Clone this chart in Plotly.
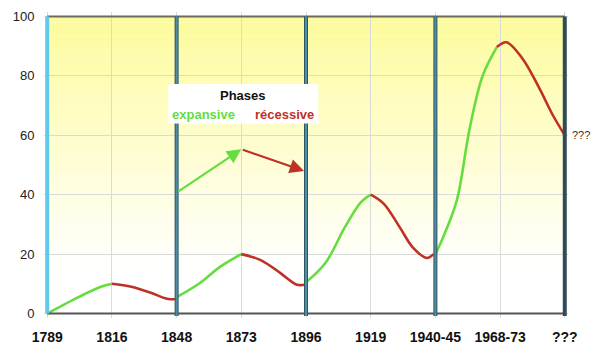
import plotly.graph_objects as go

# ---- data ----
periods = ["1789", "1816", "1848", "1873", "1896", "1919", "1940-45", "1968-73", "???"]
y_ticks = [0, 20, 40, 60, 80, 100]

# curve segments (x = index of period, y = value)
exp1_x = [0, 0.5, 0.83, 1]
exp1_y = [0, 5.7, 9, 10]
rec1_x = [1, 1.3, 1.6, 1.85, 2]
rec1_y = [10, 9, 7, 5, 4.8]
exp2_x = [2, 2.36, 2.67, 3]
exp2_y = [5.5, 10.3, 15.7, 20]
rec2_x = [3, 3.3, 3.6, 3.86, 4]
rec2_y = [20, 18, 13.7, 9.7, 9.8]
exp3_x = [4, 4.3, 4.6, 4.85, 5]
exp3_y = [10.5, 17, 29, 37.5, 40]
rec3_x = [5, 5.2, 5.45, 5.65, 5.87, 5.97]
rec3_y = [40, 37, 29, 22.3, 18.7, 20]
exp4_x = [6, 6.12, 6.33, 6.53, 6.73, 6.95]
exp4_y = [20, 25.7, 38, 62.3, 80, 89.7]
rec4_x = [6.95, 7.1, 7.35, 7.61, 7.81, 8]
rec4_y = [89.7, 91.3, 85.7, 75.7, 67, 60]

expansive = [(exp1_x, exp1_y), (exp2_x, exp2_y), (exp3_x, exp3_y), (exp4_x, exp4_y)]
recessive = [(rec1_x, rec1_y), (rec2_x, rec2_y), (rec3_x, rec3_y), (rec4_x, rec4_y)]

# phase arrows (legend illustration)
arrow_green = (2, 40.7, 3, 55.3)
arrow_red = (3, 55.3, 3.97, 48)

GREEN = "#66dd3f"
RED = "#bf3128"
FONT = "Liberation Sans, Arial, sans-serif"

fig = go.Figure()
for xs, ys in expansive:
    fig.add_trace(go.Scatter(x=xs, y=ys, mode="lines", line=dict(color=GREEN, width=2.6, shape="spline"),
                             hoverinfo="skip", showlegend=False))
for xs, ys in recessive:
    fig.add_trace(go.Scatter(x=xs, y=ys, mode="lines", line=dict(color=RED, width=2.6, shape="spline"),
                             hoverinfo="skip", showlegend=False))

shapes = []
# gradient background: yellow at top fading to white
n = 40
top_col = (253, 251, 155)
y_lo, y_hi = 15, 100
for i in range(n):
    t = (i + 0.5) / n
    r = int(round(255 + (top_col[0] - 255) * t))
    g = int(round(255 + (top_col[1] - 255) * t))
    b = int(round(255 + (top_col[2] - 255) * t))
    y0 = y_lo + (y_hi - y_lo) * i / n
    y1 = y_lo + (y_hi - y_lo) * (i + 1) / n
    shapes.append(dict(type="rect", xref="x", yref="y", x0=0, x1=8, y0=y0, y1=y1,
                       fillcolor=f"rgb({r},{g},{b})", line=dict(width=0), layer="below"))

# top border and bottom axis
shapes.append(dict(type="line", xref="x", yref="y", x0=0, x1=8, y0=100, y1=100,
                   line=dict(color="#6b6b60", width=2), layer="above"))
shapes.append(dict(type="line", xref="x", yref="y", x0=0, x1=8, y0=0, y1=0,
                   line=dict(color="#555555", width=2), layer="above"))

# phase boundary vertical lines
shapes.append(dict(type="line", xref="x", yref="y", x0=0, x1=0, y0=0, y1=100,
                   line=dict(color="#5ec9ea", width=4), layer="above"))
for xv in [2, 4, 6]:
    shapes.append(dict(type="line", xref="x", yref="y", x0=xv, x1=xv, y0=-0.8, y1=100,
                       line=dict(color="#2f5663", width=4), layer="above"))
    shapes.append(dict(type="line", xref="x", yref="y", x0=xv, x1=xv, y0=-0.8, y1=100,
                       line=dict(color="#4f8fa6", width=2), layer="above"))
shapes.append(dict(type="line", xref="x", yref="y", x0=8, x1=8, y0=-0.8, y1=100,
                   line=dict(color="#2e4c57", width=4), layer="above"))

# legend box
shapes.append(dict(type="rect", xref="x", yref="y", x0=1.87, x1=4.19, y0=64, y1=77.3,
                   fillcolor="white", line=dict(width=0), layer="above"))

annotations = [
    dict(x=3.03, y=73.3, xref="x", yref="y", text="<b>Phases</b>", showarrow=False,
         font=dict(size=13, color="#111111", family=FONT)),
    dict(x=2.42, y=66.9, xref="x", yref="y", text="<b>expansive</b>", showarrow=False,
         font=dict(size=13, color=GREEN, family=FONT)),
    dict(x=3.66, y=66.9, xref="x", yref="y", text="<b>récessive</b>", showarrow=False,
         font=dict(size=13, color=RED, family=FONT)),
    dict(x=8, y=60, xref="x", yref="y", text="???", showarrow=False, xanchor="left", xshift=5,
         font=dict(size=11, color="#333333", family=FONT)),
]
for (x0, y0, x1, y1), col in [(arrow_green, GREEN), (arrow_red, RED)]:
    annotations.append(dict(x=x1, y=y1, ax=x0, ay=y0, xref="x", yref="y", axref="x", ayref="y",
                            text="", showarrow=True, arrowhead=2, arrowsize=1.3, arrowwidth=2.2,
                            arrowcolor=col, standoff=0))

fig.update_layout(
    width=600, height=361,
    margin=dict(l=44, r=31.5, t=9.5, b=42.5),
    paper_bgcolor="white", plot_bgcolor="white",
    shapes=shapes, annotations=annotations,
    font=dict(family=FONT),
    xaxis=dict(range=[-0.05, 8.05], tickmode="array", tickvals=list(range(len(periods))),
               ticktext=[f"<b>{p}</b>" for p in periods], showgrid=True, gridcolor="#dadada",
               gridwidth=1, zeroline=False, showline=False, ticks="outside", ticklen=6,
               tickcolor="rgba(0,0,0,0)", tickfont=dict(size=14, color="#111111")),
    yaxis=dict(range=[-1.5, 101.5], tickmode="array", tickvals=y_ticks, showgrid=True,
               gridcolor="#dadada", gridwidth=1, zeroline=False, showline=False,
               ticks="outside", ticklen=6, tickcolor="rgba(0,0,0,0)",
               tickfont=dict(size=13, color="#222222")),
)

fig.write_html("out.html", config={"displayModeBar": False},
               post_script="document.body.style.margin='0';document.body.style.padding='0';")
